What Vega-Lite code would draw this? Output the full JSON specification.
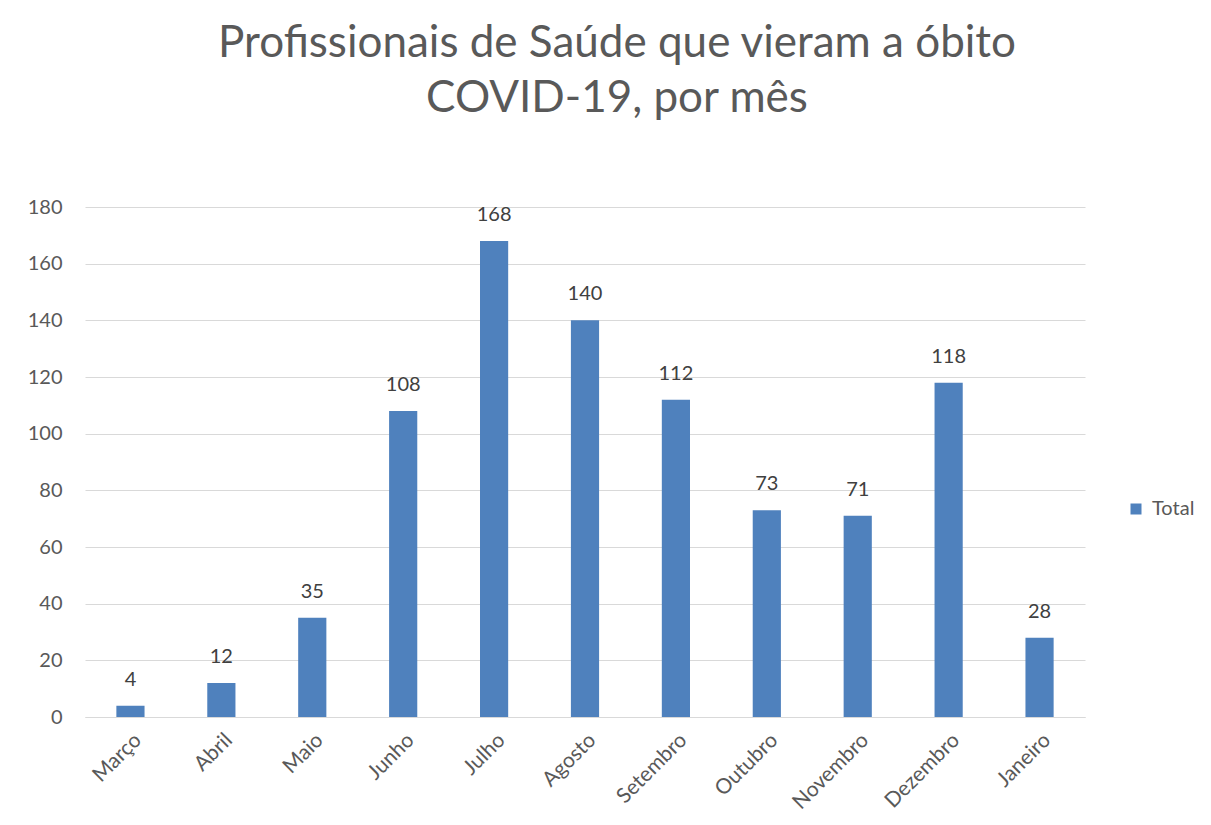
{
  "$schema": "https://vega.github.io/schema/vega-lite/v6.json",
  "width": 1000,
  "height": 510,
  "autosize": {"type": "none"},
  "padding": {"left": 85, "top": 207, "right": 126, "bottom": 108},
  "background": "white",
  "config": {
    "font": "Lato",
    "view": {"stroke": null}
  },
  "title": {
    "text": ["Profissionais de Saúde que vieram a óbito", "COVID-19, por mês"],
    "fontSize": 44,
    "font": "Lato",
    "fontWeight": "normal",
    "color": "#595959",
    "anchor": "middle",
    "frame": "group",
    "dx": 32,
    "offset": 32,
    "lineHeight": 55,
    "baseline": "bottom"
  },
  "data": {
    "values": [
      {"mes": "Março", "total": 4, "serie": "Total"},
      {"mes": "Abril", "total": 12, "serie": "Total"},
      {"mes": "Maio", "total": 35, "serie": "Total"},
      {"mes": "Junho", "total": 108, "serie": "Total"},
      {"mes": "Julho", "total": 168, "serie": "Total"},
      {"mes": "Agosto", "total": 140, "serie": "Total"},
      {"mes": "Setembro", "total": 112, "serie": "Total"},
      {"mes": "Outubro", "total": 73, "serie": "Total"},
      {"mes": "Novembro", "total": 71, "serie": "Total"},
      {"mes": "Dezembro", "total": 118, "serie": "Total"},
      {"mes": "Janeiro", "total": 28, "serie": "Total"}
    ]
  },
  "encoding": {
    "x": {
      "field": "mes",
      "type": "nominal",
      "sort": null,
      "scale": {"paddingInner": 0.69, "paddingOuter": 0.345},
      "axis": {
        "title": null,
        "labelAngle": -45,
        "labelFontSize": 21,
        "labelColor": "#595959",
        "labelPadding": 12,
        "ticks": false,
        "domainColor": "#d9d9d9",
        "domainWidth": 1,
        "grid": false
      }
    },
    "y": {
      "field": "total",
      "type": "quantitative",
      "scale": {"domain": [0, 180], "nice": false},
      "axis": {
        "title": null,
        "values": [0, 20, 40, 60, 80, 100, 120, 140, 160, 180],
        "labelFontSize": 20,
        "labelColor": "#595959",
        "labelPadding": 23,
        "ticks": false,
        "domain": false,
        "gridColor": "#d9d9d9",
        "gridWidth": 1
      }
    }
  },
  "layer": [
    {
      "mark": {"type": "bar", "color": "#4F81BD"},
      "encoding": {
        "color": {
          "field": "serie",
          "type": "nominal",
          "scale": {"range": ["#4F81BD"]},
          "legend": {
            "title": null,
            "orient": "none",
            "legendX": 1041,
            "legendY": 292,
            "symbolType": "square",
            "symbolSize": 121,
            "symbolStrokeWidth": 0,
            "labelFontSize": 20,
            "labelColor": "#595959",
            "labelOffset": 6
          }
        }
      }
    },
    {
      "mark": {"type": "text", "baseline": "alphabetic", "dy": -20, "fontSize": 20, "color": "#404040"},
      "encoding": {
        "text": {"field": "total", "type": "quantitative"}
      }
    }
  ]
}
